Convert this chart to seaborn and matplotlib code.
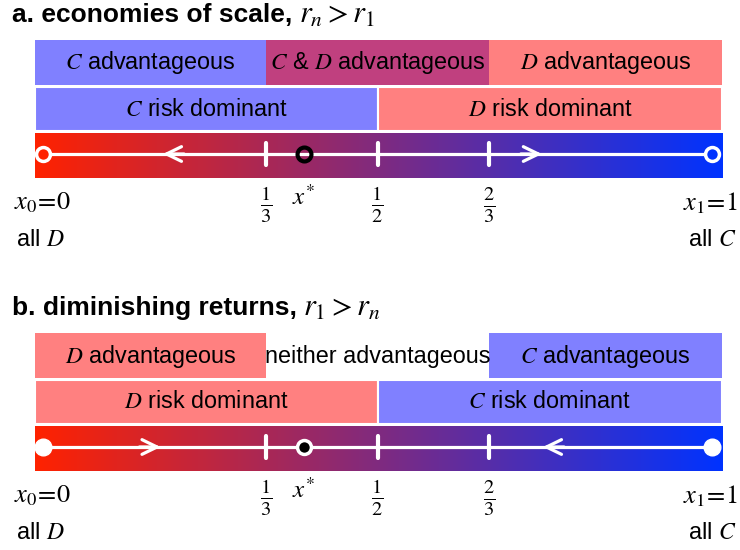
import numpy as np
import matplotlib.pyplot as plt
import seaborn as sns
from matplotlib.patches import Rectangle

sns.set_style("white")
plt.rcParams["font.family"] = ["Liberation Sans", "DejaVu Sans"]
plt.rcParams["mathtext.fontset"] = "stix"
plt.rcParams["text.color"] = "black"

# Colours
blue = "#8080ff"
pink = "#ff8080"
mix = "#c0407f"
left_col = "#ff2200"
right_col = "#0033ff"

# Data: frequency of cooperators x in [0, 1]
ticks = [1 / 3, 1 / 2, 2 / 3]
tick_labels = [r"$\frac{1}{3}$", r"$\frac{1}{2}$", r"$\frac{2}{3}$"]
x_star = 0.39

titles = ["a. economies of scale,", "b. diminishing returns,"]
title_math = [r"$r_n > r_1$", r"$r_1 > r_n$"]

adv_edges = [0, 1 / 3, 2 / 3, 1]
adv_labels = [["$C$ advantageous", "$C$ & $D$ advantageous", "$D$ advantageous"],
              ["$D$ advantageous", "neither advantageous", "$C$ advantageous"]]
adv_colors = [[blue, mix, pink], [pink, "none", blue]]

risk_edges = [0, 1 / 2, 1]
risk_labels = [["$C$ risk dominant", "$D$ risk dominant"],
               ["$D$ risk dominant", "$C$ risk dominant"]]
risk_colors = [[blue, pink], [pink, blue]]

# arrow tips and directions (-1 = towards 0, +1 = towards 1)
arrow_tips = [[0.175, 0.75], [0.18, 0.743]]
arrow_dirs = [[-1, 1], [1, -1]]

# fixed points: endpoints stable in b, unstable in a
stable_ends = [False, True]

# Layout (pixels, y downward)
pad_l, pad_r = -0.012, 0.015
offsets = [0, 293]

fig = plt.figure(figsize=(7.4, 5.5), dpi=100)
ax = fig.add_axes([0, 0, 1, 1])
cmap = sns.blend_palette([left_col, right_col], as_cmap=True)


def edge(v, i, n):
    if i == 0:
        return v + pad_l
    if i == n - 1:
        return v + pad_r
    return v


for p in range(2):
    o = offsets[p]
    t = ax.text(-0.047, o + 15, titles[p], fontsize=19, fontweight="bold",
                ha="left", va="center")
    ax.annotate(title_math[p], xy=(1, 0.5), xycoords=t, xytext=(5, 0),
                textcoords="offset points", fontsize=22, ha="left", va="center")

    # advantageous row
    n = len(adv_edges)
    for i in range(n - 1):
        x0 = edge(adv_edges[i], i, n)
        x1 = edge(adv_edges[i + 1], i + 1, n)
        ax.add_patch(Rectangle((x0, o + 40), x1 - x0, 45, facecolor=adv_colors[p][i],
                               edgecolor="none"))
        ax.text((x0 + x1) / 2, o + 63, adv_labels[p][i], fontsize=16.8,
                ha="center", va="center")

    # risk dominance row
    n = len(risk_edges)
    for i in range(n - 1):
        x0 = edge(risk_edges[i], i, n)
        x1 = edge(risk_edges[i + 1], i + 1, n)
        ax.add_patch(Rectangle((x0, o + 87), x1 - x0, 44, facecolor=risk_colors[p][i],
                               edgecolor="white", lw=1.5))
        ax.text((x0 + x1) / 2, o + 109, risk_labels[p][i], fontsize=16.8,
                ha="center", va="center")

    # gradient bar
    ax.imshow(np.linspace(0, 1, 256)[None, :], cmap=cmap, aspect="auto",
              extent=(pad_l, 1 + pad_r, o + 178, o + 133.5), zorder=1)
    yl = o + 154
    ax.plot([0, 1], [yl, yl], color="white", lw=2.3, zorder=2)
    for tk, lab in zip(ticks, tick_labels):
        ax.plot([tk, tk], [yl - 11, yl + 11], color="white", lw=3,
                solid_capstyle="round", zorder=3)
        ax.text(tk, o + 205, lab, fontsize=21, ha="center", va="center")

    for tip, d in zip(arrow_tips[p], arrow_dirs[p]):
        ax.annotate("", xy=(tip, yl), xytext=(tip - d * 0.04, yl),
                    arrowprops=dict(arrowstyle="->,head_length=0.45,head_width=0.22",
                                    color="white", lw=2.3, mutation_scale=24),
                    zorder=4)

    if stable_ends[p]:
        ax.plot([0, 1], [yl, yl], "o", ms=12, mfc="white", mec="white", zorder=5)
        ax.plot([x_star], [yl], "o", ms=10, mfc="black", mec="white", mew=2.5, zorder=5)
    else:
        ax.plot([0], [yl], "o", ms=10, mfc=left_col, mec="white", mew=2.5, zorder=5)
        ax.plot([1], [yl], "o", ms=10, mfc=right_col, mec="white", mew=2.5, zorder=5)
        ax.plot([x_star], [yl], "o", ms=10, mfc="none", mec="black", mew=3, zorder=5)

    ax.text(x_star, o + 197, "$x^{*}$", fontsize=18, ha="center", va="center")
    ax.text(-0.044, o + 203, r"$x_0\!=\!0$", fontsize=19, ha="left", va="center")
    ax.text(-0.041, o + 240, "all $D$", fontsize=17, ha="left", va="center")
    ax.text(1.038, o + 203, r"$x_1\!=\!1$", fontsize=19, ha="right", va="center")
    ax.text(1.037, o + 240, "all $C$", fontsize=17, ha="right", va="center")

ax.set_xlim(-43 / 669, 697 / 669)
ax.set_ylim(550, 0)
ax.axis("off")
fig.savefig("out.png", dpi=100)
